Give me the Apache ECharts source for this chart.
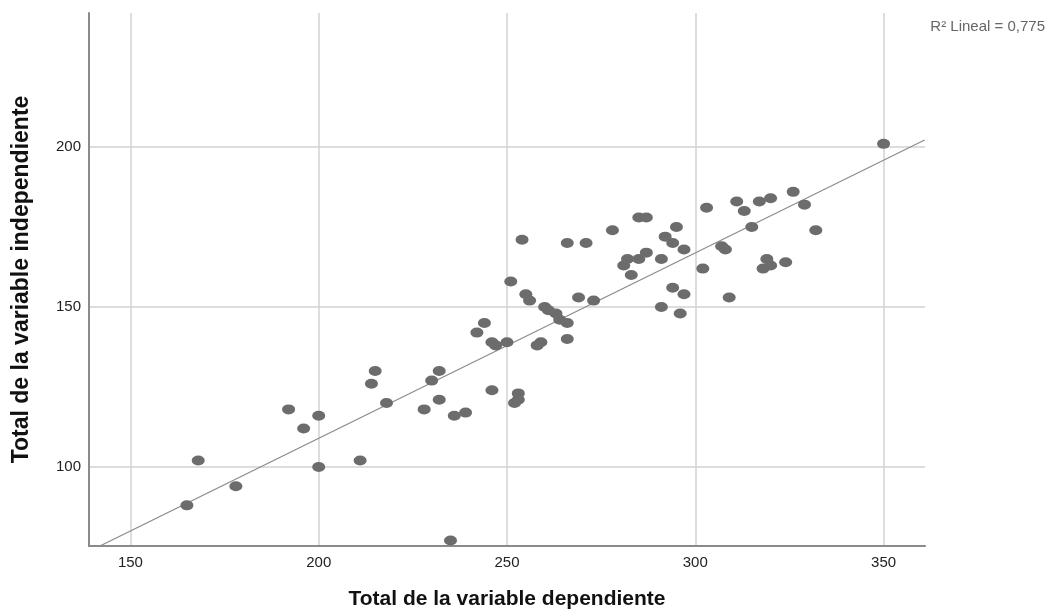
<!DOCTYPE html>
<html>
<head>
<meta charset="utf-8">
<title>Dispersión</title>
<script src="https://cdn.jsdelivr.net/npm/echarts@6/dist/echarts.min.js"></script>
<style>
  html, body { margin: 0; padding: 0; background: #fff; }
  #ichart { width: 1053px; height: 610px; }
</style>
</head>
<body>
<div id="ichart"></div>
<script>
// valores
const xValues = [165, 168, 178, 192, 196, 200, 200, 211, 214, 215, 218, 228, 230, 232, 232, 235, 236, 239,
  242, 244, 246, 247, 246, 250, 251, 252, 253, 253, 254, 255, 256, 258, 259, 260, 261, 263, 264, 266,
  266, 266, 269, 271, 273, 278, 281, 282, 283, 285, 287, 285, 287, 291, 291, 292, 294, 294, 295, 296,
  297, 297, 302, 303, 309, 307, 308, 311, 313, 315, 317, 320, 318, 319, 320, 324, 326, 329, 332, 350]
const yValues = [88, 102, 94, 118, 112, 116, 100, 102, 126, 130, 120, 118, 127, 130, 121, 77, 116, 117,
  142, 145, 139, 138, 124, 139, 158, 120, 123, 121, 171, 154, 152, 138, 139, 150, 149, 148, 146, 145,
  140, 170, 153, 170, 152, 174, 163, 165, 160, 178, 178, 165, 167, 150, 165, 172, 170, 156, 175, 148,
  154, 168, 162, 181, 153, 169, 168, 183, 180, 175, 183, 184, 162, 165, 163, 164, 186, 182, 174, 201]

// recta de ajuste lineal (extremos leidos)
const fitX = [141.9, 360.9]
const fitY = [75.3, 202.2]

const xRange = [139, 361]
const yRange = [75.3, 241.9]
const r2Text = 'R² Lineal = 0,775'

const points = xValues.map((x, i) => [x, yValues[i]])
const fitLine = fitX.map((x, i) => [x, fitY[i]])

const myChart = echarts.init(document.getElementById('ichart'))
const option = {
  backgroundColor: '#fff',
  animation: false,
  textStyle: { fontFamily: 'Liberation Sans, Arial, sans-serif' },
  title: {
    text: r2Text,
    right: 3,
    top: 14,
    textStyle: { fontSize: 15, fontWeight: 'normal', color: '#666' }
  },
  grid: { left: 89, right: 128, top: 13, bottom: 64, outerBoundsMode: 'none', containLabel: false },
  xAxis: {
    type: 'value',
    min: xRange[0],
    max: xRange[1],
    splitNumber: 4,
    name: 'Total de la variable dependiente',
    nameLocation: 'middle',
    nameGap: 43,
    nameTextStyle: { fontSize: 21, fontWeight: 'bold', color: '#111' },
    axisLine: { show: true, lineStyle: { color: '#8a8a8a', width: 2 } },
    axisTick: { show: false },
    axisLabel: { showMinLabel: false, showMaxLabel: false, fontSize: 15, color: '#222', margin: 9 },
    splitLine: { show: true, showMinLine: false, showMaxLine: false, lineStyle: { color: '#d2d2d2', width: 1.5 } }
  },
  yAxis: {
    type: 'value',
    min: yRange[0],
    max: yRange[1],
    splitNumber: 3,
    name: 'Total de la variable independiente',
    nameLocation: 'middle',
    nameGap: 56,
    nameTextStyle: { fontSize: 23, fontWeight: 'bold', color: '#111' },
    axisLine: { show: true, lineStyle: { color: '#8a8a8a', width: 2 } },
    axisTick: { show: false },
    axisLabel: { showMinLabel: false, showMaxLabel: false, fontSize: 15, color: '#222', margin: 8 },
    splitLine: { show: true, showMinLine: false, showMaxLine: false, lineStyle: { color: '#d2d2d2', width: 1.5 } }
  },
  series: [
    {
      name: 'ajuste',
      type: 'line',
      data: fitLine,
      symbol: 'none',
      clip: true,
      lineStyle: { color: '#8c8c8c', width: 1.3 },
      z: 2
    },
    {
      name: 'casos',
      type: 'scatter',
      data: points,
      symbol: 'circle',
      symbolSize: [13, 10],
      itemStyle: { color: '#6c6c6c', opacity: 1 },
      z: 3
    }
  ]
}
myChart.setOption(option)
</script>
</body>
</html>
